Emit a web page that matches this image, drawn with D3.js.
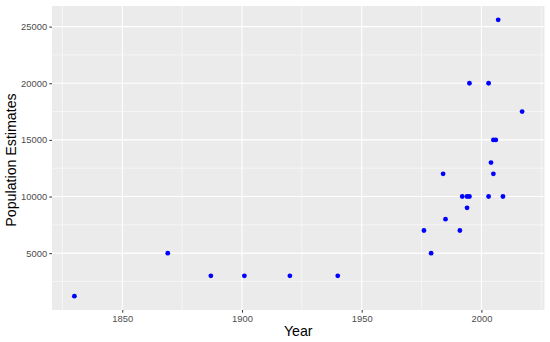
<!DOCTYPE html>
<html>
<head>
<meta charset="utf-8">
<script src="https://cdn.jsdelivr.net/npm/d3@7"></script>
<style>
  body { margin: 0; background: #fff; }
  svg { display: block; font-family: "Liberation Sans", Arial, sans-serif; }
</style>
</head>
<body>
<svg id="chart" width="550" height="342"></svg>
<script>
// Data
const years = [1830, 1869, 1887, 1901, 1920, 1940, 1976, 1979, 1984, 1985, 1991, 1992, 1994, 1995,
               1994, 1995, 2003, 2003, 2004, 2005, 2005, 2006, 2007, 2009, 2017];
const populations = [1200, 5000, 3000, 3000, 3000, 3000, 7000, 5000, 12000, 8000, 7000, 10000, 10000, 10000,
                     9000, 20000, 20000, 10000, 13000, 12000, 15000, 15000, 25600, 10000, 17500];
const xTicks = [1850, 1900, 1950, 2000];
const yTicks = [5000, 10000, 15000, 20000, 25000];
const xMinor = [1825, 1875, 1925, 1975, 2025];
const yMinor = [2500, 7500, 12500, 17500, 22500];

const points = years.map((y, i) => ({ year: y, pop: populations[i] }));

const width = 550, height = 342;
const margin = { left: 52, right: 5.5, top: 6, bottom: 32 };

const svg = d3.select("#chart");

// ggplot-like 5% expansion
const xExt = d3.extent(years), yExt = d3.extent(populations);
const xPad = (xExt[1] - xExt[0]) * 0.05, yPad = (yExt[1] - yExt[0]) * 0.05;

const x = d3.scaleLinear()
  .domain([xExt[0] - xPad, xExt[1] + xPad])
  .range([margin.left, width - margin.right]);
const y = d3.scaleLinear()
  .domain([yExt[0] - yPad, yExt[1] + yPad])
  .range([height - margin.bottom, margin.top]);

// panel background
svg.append("rect")
  .attr("x", margin.left).attr("y", margin.top)
  .attr("width", width - margin.right - margin.left)
  .attr("height", height - margin.bottom - margin.top)
  .attr("fill", "#EBEBEB");

const grid = svg.append("g");
// minor grid lines
grid.selectAll(".xminor").data(xMinor.filter(v => v > x.domain()[0] && v < x.domain()[1]))
  .join("line")
  .attr("x1", d => x(d)).attr("x2", d => x(d))
  .attr("y1", margin.top).attr("y2", height - margin.bottom)
  .attr("stroke", "#fff").attr("stroke-width", 0.55);
grid.selectAll(".yminor").data(yMinor.filter(v => v > y.domain()[0] && v < y.domain()[1]))
  .join("line")
  .attr("y1", d => y(d)).attr("y2", d => y(d))
  .attr("x1", margin.left).attr("x2", width - margin.right)
  .attr("stroke", "#fff").attr("stroke-width", 0.55);
// major grid lines
grid.selectAll(".xmajor").data(xTicks)
  .join("line")
  .attr("x1", d => x(d)).attr("x2", d => x(d))
  .attr("y1", margin.top).attr("y2", height - margin.bottom)
  .attr("stroke", "#fff").attr("stroke-width", 1.1);
grid.selectAll(".ymajor").data(yTicks)
  .join("line")
  .attr("y1", d => y(d)).attr("y2", d => y(d))
  .attr("x1", margin.left).attr("x2", width - margin.right)
  .attr("stroke", "#fff").attr("stroke-width", 1.1);

// axes
const xAxis = svg.append("g")
  .attr("transform", `translate(0,${height - margin.bottom})`)
  .call(d3.axisBottom(x).tickValues(xTicks).tickFormat(d3.format("d")).tickSize(2.7).tickPadding(2.2));
const yAxis = svg.append("g")
  .attr("transform", `translate(${margin.left},0)`)
  .call(d3.axisLeft(y).tickValues(yTicks).tickFormat(d3.format("d")).tickSize(2.7).tickPadding(2.2));

[xAxis, yAxis].forEach(a => {
  a.select(".domain").remove();
  a.selectAll(".tick line").attr("stroke", "#333333").attr("stroke-width", 1);
  a.selectAll(".tick text").attr("fill", "#4D4D4D").attr("font-size", 9.4)
    .attr("font-family", "Liberation Sans, Arial, sans-serif");
});

// points
svg.append("g").selectAll("circle").data(points)
  .join("circle")
  .attr("cx", d => x(d.year))
  .attr("cy", d => y(d.pop))
  .attr("r", 2.4)
  .attr("fill", "#0000FF");

// axis titles
svg.append("text")
  .attr("x", (margin.left + width - margin.right) / 2)
  .attr("y", 336)
  .attr("text-anchor", "middle")
  .attr("font-size", 14.2)
  .attr("fill", "#000")
  .text("Year");

svg.append("text")
  .attr("transform", `translate(16,160) rotate(-90)`)
  .attr("text-anchor", "middle")
  .attr("font-size", 14.2)
  .attr("fill", "#000")
  .text("Population Estimates");
</script>
</body>
</html>
